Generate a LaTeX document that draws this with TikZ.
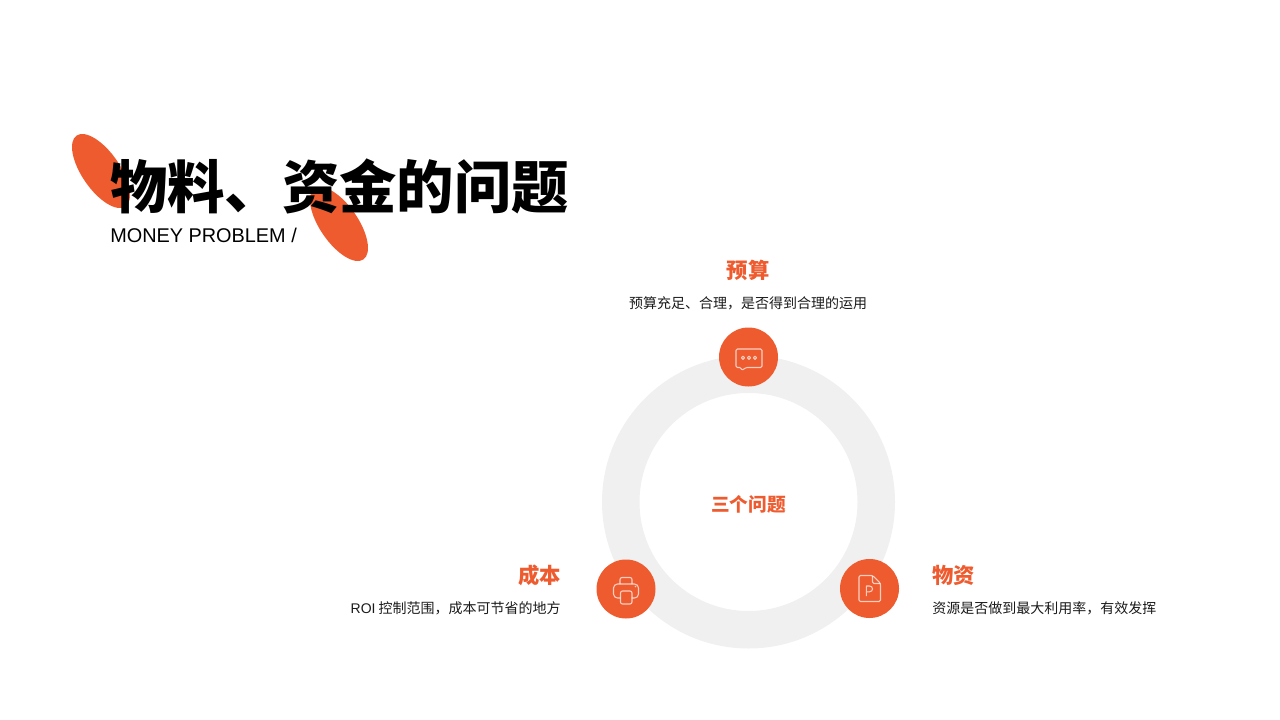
\documentclass[tikz,border=0pt]{standalone}
\usepackage{fontspec}
\setmainfont{Liberation Sans}
\newfontfamily\cjk{Noto Sans CJK SC}
\definecolor{accent}{HTML}{EE5B2F}
\definecolor{ringgray}{HTML}{F0F0F0}
\definecolor{bodytext}{HTML}{1A1A1A}
\tikzset{
  badge/.style = {circle, fill=accent, minimum size=44.25pt, inner sep=0pt},
  head/.style = {text=accent, font=\cjk\bfseries\fontsize{16}{18}\selectfont, inner sep=0pt},
  desc/.style = {text=bodytext, font=\cjk\fontsize{10.5}{12}\selectfont, inner sep=0pt},
  glyph/.style = {draw=white, draw opacity=0.7, line width=0.8pt, line join=round}
}
\begin{document}
\begin{tikzpicture}[%
        x = 0.75pt, y = -0.75pt
    ]
      \useasboundingbox (0,0) rectangle (1280,720);
      % leaves behind the title
      \fill[accent] (101,171) circle [x radius=19, y radius=43, rotate=34.6];
      \fill[accent] (339,224) circle [x radius=19, y radius=43, rotate=34.6];
      \node[anchor=base west, inner sep=0pt, font=\cjk\bfseries\fontsize{43}{48}\selectfont] (title) at (110,208.5) {物料、资金的问题};
      \node[anchor=base west, inner sep=0pt, font=\fontsize{14.9}{18}\selectfont] (subtitle) at (110,243) {MONEY PROBLEM /};
      % ring
      \fill[ringgray, even odd rule] (748.5,502) circle [radius=146.5] (748.5,502) circle [radius=109];
      \node[text=accent, inner sep=0pt, font=\cjk\bfseries\fontsize{14}{16}\selectfont] (center) at (748.5,504) {三个问题};
      \node[badge] (budget) at (748.5,357) {};
      \node[badge] (cost) at (626,589) {};
      \node[badge] (goods) at (869.5,588.5) {};
      % labels
      \node[head] (budgethead) at (748,270.5) {预算};
      \node[desc] (budgetdesc) at (748,303.5) {预算充足、合理，是否得到合理的运用};
      \node[head, anchor=east] (costhead) at (561,575.5) {成本};
      \node[desc, anchor=east] (costdesc) at (561,608) {{\rmfamily ROI} 控制范围，成本可节省的地方};
      \node[head, anchor=west] (goodshead) at (932,575.5) {物资};
      \node[desc, anchor=west] (goodsdesc) at (932,608) {资源是否做到最大利用率，有效发挥};
      % speech bubble
      \draw[glyph, rounded corners=1pt] (741,367.5) -- (736,367.5) -- (736,349) -- (762,349) -- (762,367.5) -- (746,367.5) -- (741.7,370.5) -- cycle;
      \foreach \i in {743,749,755} {
        \draw[glyph] (\i,357.8) circle [radius=1.6];
      }
      % printer
      \draw[glyph, rounded corners=3pt] (620.5,598) -- (613.5,598) -- (613.5,584) -- (638.5,584) -- (638.5,598) -- (631.5,598);
      \draw[glyph, rounded corners=1.5pt] (620,584) -- (620,577.5) -- (632,577.5) -- (632,584);
      \draw[glyph, rounded corners=1.5pt] (620.5,591) rectangle (632,604);
      \fill[white, opacity=0.7] (635.5,586.5) circle [radius=0.9];
      % file
      \draw[glyph, rounded corners=1pt] (859,575.5) -- (872.5,575.5) -- (880.5,583.5) -- (880.5,601.5) -- (859,601.5) -- cycle;
      \draw[glyph, rounded corners=1pt] (872.5,575.5) -- (872.5,583.5) -- (880.5,583.5);
      \draw[glyph] (866.3,596) -- (866.3,586) -- (869.5,586) .. controls (873.5,586) and (873.5,591.8) .. (869.5,591.8) -- (866.3,591.8);
\end{tikzpicture}
\end{document}
